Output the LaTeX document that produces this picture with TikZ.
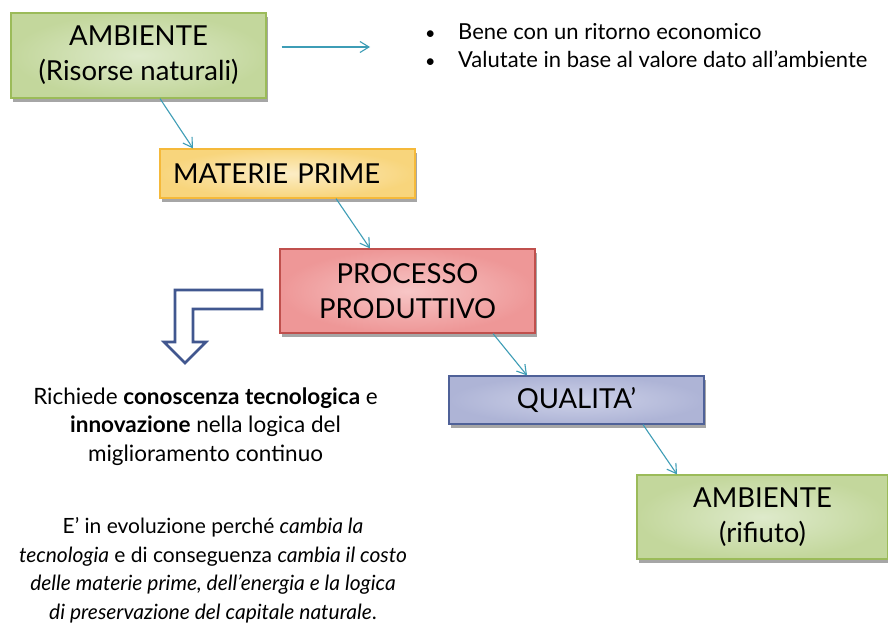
\documentclass[tikz,border=0pt]{standalone}
\usepackage{fontspec}
\setmainfont{Lato}
\usetikzlibrary{arrows.meta,shadows,calc}
\definecolor{gbord}{HTML}{9BBB59}
\definecolor{gin}{HTML}{DEEACB}
\definecolor{gout}{HTML}{C3D79C}
\definecolor{ybord}{HTML}{F5B93A}
\definecolor{yin}{HTML}{FCEDC6}
\definecolor{yout}{HTML}{F8D57C}
\definecolor{rbord}{HTML}{C0504D}
\definecolor{rin}{HTML}{F7C6C6}
\definecolor{rout}{HTML}{EE9797}
\definecolor{bbord}{HTML}{4F6198}
\definecolor{bin}{HTML}{CDD1E8}
\definecolor{bout}{HTML}{AEB4D6}
\definecolor{conn}{HTML}{3E9DB6}
\definecolor{hollow}{HTML}{41578F}
\tikzset{
  boxbase/.style={draw, line width=1.2pt, inner sep=0pt, align=center,
    font=\fontsize{27.5}{35}\selectfont, text=black,
    drop shadow={shadow xshift=2pt, shadow yshift=-4pt, fill=black, opacity=.35}},
  greenbox/.style={boxbase, draw=gbord, inner color=gin, outer color=gout},
  yellowbox/.style={boxbase, draw=ybord, inner color=yin, outer color=yout},
  redbox/.style={boxbase, draw=rbord, inner color=rin, outer color=rout},
  bluebox/.style={boxbase, draw=bbord, inner color=bin, outer color=bout},
  conarrow/.style={draw=conn, line width=1.1pt, -{Straight Barb[length=9pt,width=11pt]}},
  bodytext/.style={font=\fontsize{22.5}{28.5}\selectfont, align=center, text=black},
  italtext/.style={font=\fontsize{21}{28.7}\selectfont, align=center, text=black},
  bullettext/.style={font=\fontsize{22}{27}\selectfont, anchor=base west, inner sep=0pt, text=black}
}
\begin{document}
\begin{tikzpicture}[x=1pt,y=-1pt]
\useasboundingbox (0,0) rectangle (888,626);
\fill[white] (0,0) rectangle (888,626);

\node[greenbox, minimum width=255pt, minimum height=85pt] (amb1) at (138.5,55.5) {AMBIENTE\\(Risorse naturali)};
\node[yellowbox, minimum width=255pt, minimum height=49pt, text width=229pt, align=left] (mat) at (287.5,173.5) {MATERIE PRIME};
\node[redbox, minimum width=255pt, minimum height=84pt] (proc) at (407.5,291) {PROCESSO\\PRODUTTIVO};
\node[bluebox, minimum width=255pt, minimum height=48pt] (qual) at (576.5,400) {QUALITA'};
\node[greenbox, minimum width=251pt, minimum height=84pt] (amb2) at (762.5,517) {AMBIENTE\\(rifiuto)};

\draw[conarrow] ([xshift=21.5pt]amb1.south) -- ([xshift=-94.5pt]mat.north);
\draw[conarrow] ([xshift=48.5pt]mat.south) -- ([xshift=-37.5pt]proc.north);
\draw[conarrow] ([xshift=85.5pt]proc.south) -- ([xshift=-49.5pt]qual.north);
\draw[conarrow] ([xshift=66.5pt]qual.south) -- ([xshift=-85.5pt]amb2.north);

\coordinate (rt) at (370,47);
\draw[conarrow] ($(amb1.east)+(15,-8.5)$) -- (rt);

\node[bullettext, font=\fontsize{18}{27}\selectfont] (b1) at (425,40) {•};
\node[bullettext] (t1) at (458,40) {Bene con un ritorno economico};
\node[bullettext, font=\fontsize{18}{27}\selectfont] (b2) at (425,67) {•};
\node[bullettext] (t2) at (458,67) {Valutate in base al valore dato all’ambiente};

\draw[hollow, line width=2.6pt, fill=white, line join=miter]
  (262,290) -- (175,290) -- (175,342) -- (164,342) -- (185,363) -- (206,342)
  -- (193,342) -- (193,309) -- (262,309) -- cycle;

\node[bodytext, anchor=north] (txt1) at (205.5,384) {Richiede \textbf{conoscenza tecnologica} e\\\textbf{innovazione} nella logica del\\miglioramento continuo};

\node[italtext, anchor=north] (txt2) at (213,514) {E’ in evoluzione perché \textit{cambia la}\\\textit{tecnologia} e di conseguenza \textit{cambia il costo}\\\textit{delle materie prime, dell’energia e la logica}\\\textit{di preservazione del capitale naturale}.};
\end{tikzpicture}
\end{document}
